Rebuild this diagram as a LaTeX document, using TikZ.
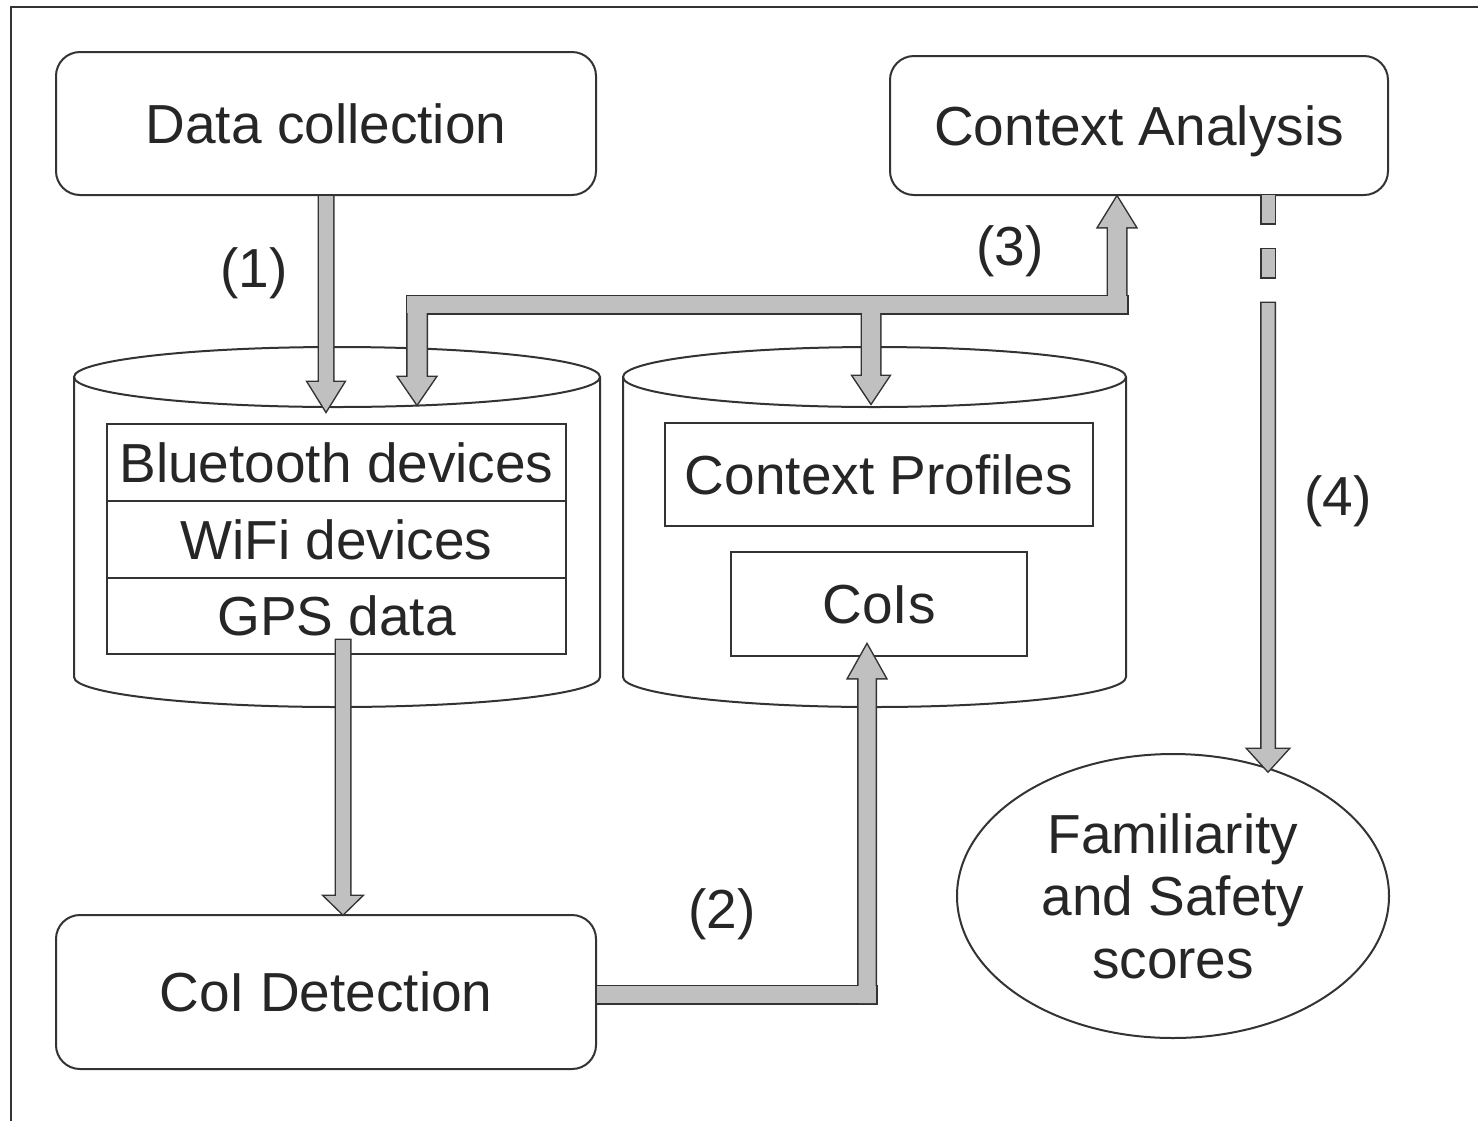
\documentclass[tikz,border=0pt]{standalone}
\usepackage{fontspec}
\setmainfont{Liberation Sans}
\usetikzlibrary{calc,shapes.geometric}
\definecolor{ln}{HTML}{333333}
\definecolor{arrfill}{HTML}{C0C0C0}
\definecolor{txt}{HTML}{262626}

% fat arrow polygon: #1 style, #2 start, #3 end, #4 shaft half width, #5 head half width, #6 head length
\newcommand\fatarrow[6]{%
  \coordinate (fabase) at ($(#3)!#6!(#2)$);
  \path[#1] ($(#2)!#4!90:(#3)$) -- ($(fabase)!#4!-90:(#2)$) -- ($(fabase)!#5!-90:(#2)$)
    -- (#3) -- ($(fabase)!#5!90:(#2)$) -- ($(fabase)!#4!90:(#2)$) -- ($(#2)!#4!-90:(#3)$) -- cycle;
}
\newcommand\fatrect[3]{\path[#1] (#2) rectangle (#3);}

\newcommand\allarrows[1]{%
  % (1)
  \fatarrow{#1}{dc.south}{a1e}{7pt}{18pt}{29pt}
  % GPS -> CoI detection
  \fatarrow{#1}{a5s}{a5e}{7pt}{18.5pt}{18pt}
  % (2)
  \fatrect{#1}{a2r1}{a2r2}
  \fatarrow{#1}{a2s}{a2e}{8.5pt}{18.5pt}{33pt}
  % (3)
  \fatrect{#1}{barA}{barB}
  \fatarrow{#1}{b1s}{b1e}{9.5pt}{18.5pt}{27pt}
  \fatarrow{#1}{b2s}{b2e}{9pt}{18pt}{27pt}
  \fatarrow{#1}{b3s}{b3e}{9pt}{18.5pt}{30pt}
  % (4)
  \fatrect{#1}{d1a}{d1b}
  \fatrect{#1}{d2a}{d2b}
  \fatarrow{#1}{a4s}{a4e}{6.5pt}{20pt}{22pt}
}

\tikzset{
  txtfont/.style={font=\fontsize{55pt}{62.5pt}\selectfont, text=txt},
  oneline/.style={text height=39.4pt, text depth=0pt},
  rbox/.style={draw=ln, line width=2pt, rounded corners=24pt, inner sep=0pt, txtfont, oneline},
  ibox/.style={draw=ln, line width=1.6pt, inner sep=0pt, txtfont, oneline},
  lbl/.style={inner sep=0pt, txtfont},
  cyl/.style={draw=ln, line width=2pt}
}

\begin{document}
\begin{tikzpicture}[x=1pt,y=-1pt]
\useasboundingbox (0,0) rectangle (1478,1120);
\fill[white] (0,0) rectangle (1478,1120);
% outer frame (partially visible)
\draw[ln, line width=2pt] (11,1130) -- (11,7) -- (1490,7);

% boxes
\node[rbox, minimum width=540pt, minimum height=143pt] (dc) at (326,123.5) {Data collection};
\node[rbox, minimum width=498pt, minimum height=139pt] (ca) at (1139,125.5) {Context Analysis};
\node[rbox, minimum width=540pt, minimum height=154pt] (coi) at (326,992) {CoI Detection};
\node[ellipse, draw=ln, line width=2pt, inner sep=0pt, minimum width=432pt, minimum height=284pt, align=center, txtfont] (fs) at (1173,896) {Familiarity\\and Safety\\scores};

% cylinders
\draw[cyl] (74,377) -- (74,677) arc[start angle=180, end angle=360, x radius=263pt, y radius=30pt] -- (600,377);
\draw[cyl] (337,377) ellipse[x radius=263pt, y radius=30pt];
\draw[cyl] (623,377) -- (623,677) arc[start angle=180, end angle=360, x radius=251.5pt, y radius=30pt] -- (1126,377);
\draw[cyl] (874.5,377) ellipse[x radius=251.5pt, y radius=30pt];

% inner boxes
\node[ibox, minimum width=459pt, minimum height=77pt] (bt) at (336.5,462.5) {Bluetooth devices};
\node[ibox, minimum width=459pt, minimum height=77pt] (wf) at (336.5,539.5) {WiFi devices};
\node[ibox, minimum width=459pt, minimum height=76pt] (gps) at (336.5,616) {GPS data};
\node[ibox, minimum width=428pt, minimum height=103pt] (cp) at (879,474.5) {Context Profiles};
\node[ibox, minimum width=296pt, minimum height=104pt] (cois) at (879,604) {CoIs};

% connector coordinates
\coordinate (a1e) at (326,411);
\coordinate (a5s) at (343,640);
\coordinate (a5e) at (coi.north -| a5s);
\coordinate (a2r1) at (coi.east |- 0,986);
\coordinate (a2r2) at (876,1003);
\coordinate (a2s) at (867,1003);
\coordinate (a2e) at (867,645);
\coordinate (barA) at (407,296);
\coordinate (barB) at (1127,313);
\coordinate (b1s) at (417,304);
\coordinate (b1e) at (417,404);
\coordinate (b2s) at (871,304);
\coordinate (b2e) at (871,403);
\coordinate (b3s) at (1117,304);
\coordinate (b3e) at (1117,197);
\coordinate (d1a) at (1261.5,195);
\coordinate (d1b) at (1274.5,223);
\coordinate (d2a) at (1261.5,249);
\coordinate (d2b) at (1274.5,277);
\coordinate (a4s) at (1268,303);
\coordinate (a4e) at (1268,771);

% arrows: outline pass then fill pass
\allarrows{draw=ln, line width=3pt}
\allarrows{fill=arrfill}

% labels
\node[lbl] (l1) at (254,273) {(1)};
\node[lbl] (l2) at (722,914) {(2)};
\node[lbl] (l3) at (1010,251) {(3)};
\node[lbl] (l4) at (1338,501) {(4)};
\end{tikzpicture}
\end{document}
